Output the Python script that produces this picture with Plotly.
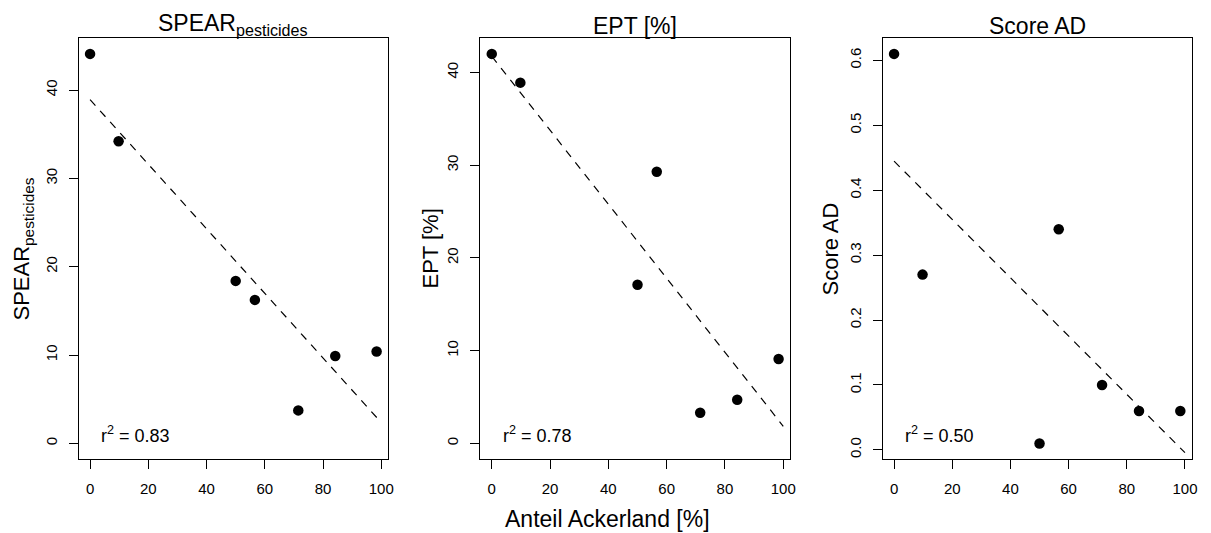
import numpy as np
import plotly.graph_objects as go

# Share of arable land in the catchment [%] (same sites in every panel)
ackerland = [0.0, 9.8, 50.0, 56.6, 71.5, 84.2, 98.4]

# Response variables per site
spear = [44.1, 34.2, 18.4, 16.25, 3.74, 9.9, 10.4]
ept = [42.0, 38.9, 17.1, 29.3, 3.3, 4.7, 9.1]
score_ad = [0.61, 0.27, 0.01, 0.34, 0.10, 0.06, 0.06]

panel_titles = ["SPEAR<sub>pesticides</sub>", "EPT [%]", "Score AD"]
r2_labels = ["0.83", "0.78", "0.50"]
x_ticks = [0, 20, 40, 60, 80, 100]
y_ticks = [[0, 10, 20, 30, 40], [0, 10, 20, 30, 40], [0.0, 0.1, 0.2, 0.3, 0.4, 0.5, 0.6]]
y_lower = [0.0, 0.0, None]  # None -> use the data minimum
x_label = "Anteil Ackerland [%]"

W, H = 1211, 533
FONT = "Liberation Sans, Arial, Helvetica, sans-serif"

# pixel boxes of the three plot regions
box_left = [79, 482.7, 887]
box_right = [390, 794, 1197.7]
box_top, box_bottom = 38.3, 459
# horizontal centre of each rotated y-axis title
ytitle_x = [23, 433, 835]


def px_x(p):
    return p / W


def px_y(p):
    return 1 - p / H


def r_range(lo, hi):
    pad = 0.04 * (hi - lo)
    return [lo - pad, hi + pad]


fig = go.Figure()
series = [spear, ept, score_ad]
line_x = np.array([0.0, 100.0])

for i, ys in enumerate(series):
    n = "" if i == 0 else str(i + 1)
    xa, ya = "x" + n, "y" + n
    fig.add_trace(go.Scatter(
        x=ackerland, y=ys, mode="markers", xaxis=xa, yaxis=ya,
        marker=dict(size=10.5, color="black"), showlegend=False, hoverinfo="skip"))
    slope, icpt = np.polyfit(ackerland, ys, 1)
    fig.add_trace(go.Scatter(
        x=line_x, y=icpt + slope * line_x, mode="lines", xaxis=xa, yaxis=ya,
        line=dict(color="black", width=1.2, dash="8px,7px"),
        showlegend=False, hoverinfo="skip"))

    lo = min(ys) if y_lower[i] is None else y_lower[i]
    yr = r_range(lo, max(ys))
    xr = r_range(min(ackerland), max(ackerland))
    common = dict(showline=True, mirror=True, linecolor="black", linewidth=1.2,
                  ticks="outside", ticklen=9, tickwidth=1.1, tickcolor="black",
                  showgrid=False, zeroline=False,
                  tickfont=dict(family=FONT, size=15, color="black"))
    fig.update_layout(**{
        "xaxis" + n: dict(domain=[px_x(box_left[i]), px_x(box_right[i])],
                          range=xr, anchor=ya, tickvals=x_ticks,
                          ticklabelstandoff=7, **common),
        "yaxis" + n: dict(domain=[px_y(box_bottom), px_y(box_top)],
                          range=yr, anchor=xa, tickvals=y_ticks[i],
                          tickformat=".1f" if i == 2 else "d",
                          tickangle=-90, ticklabelstandoff=6, **common),
    })

    cx = (box_left[i] + box_right[i]) / 2
    # panel title
    fig.add_annotation(text=panel_titles[i], xref="paper", yref="paper",
                       x=px_x(cx), y=px_y(41), xanchor="center", yanchor="bottom",
                       showarrow=False, font=dict(family=FONT, size=23, color="black"))
    # y-axis title
    fig.add_annotation(text=panel_titles[i], xref="paper", yref="paper",
                       x=px_x(ytitle_x[i]), y=px_y((box_top + box_bottom) / 2),
                       xanchor="center", yanchor="middle", textangle=-90,
                       showarrow=False, font=dict(family=FONT, size=22, color="black"))
    # coefficient of determination
    fig.add_annotation(text="r<sup>2</sup> = " + r2_labels[i], xref=xa, yref=ya,
                       x=3, y=lo, xanchor="left", yanchor="bottom", yshift=-5,
                       showarrow=False, font=dict(family=FONT, size=18, color="black"))

fig.add_annotation(text=x_label, xref="paper", yref="paper",
                   x=px_x(610.5), y=px_y(534), xanchor="center", yanchor="bottom",
                   showarrow=False, font=dict(family=FONT, size=23, color="black"))

fig.update_layout(width=W, height=H, autosize=False,
                  margin=dict(l=0, r=0, t=0, b=0),
                  paper_bgcolor="white", plot_bgcolor="white")

fig.write_html("out.html")
